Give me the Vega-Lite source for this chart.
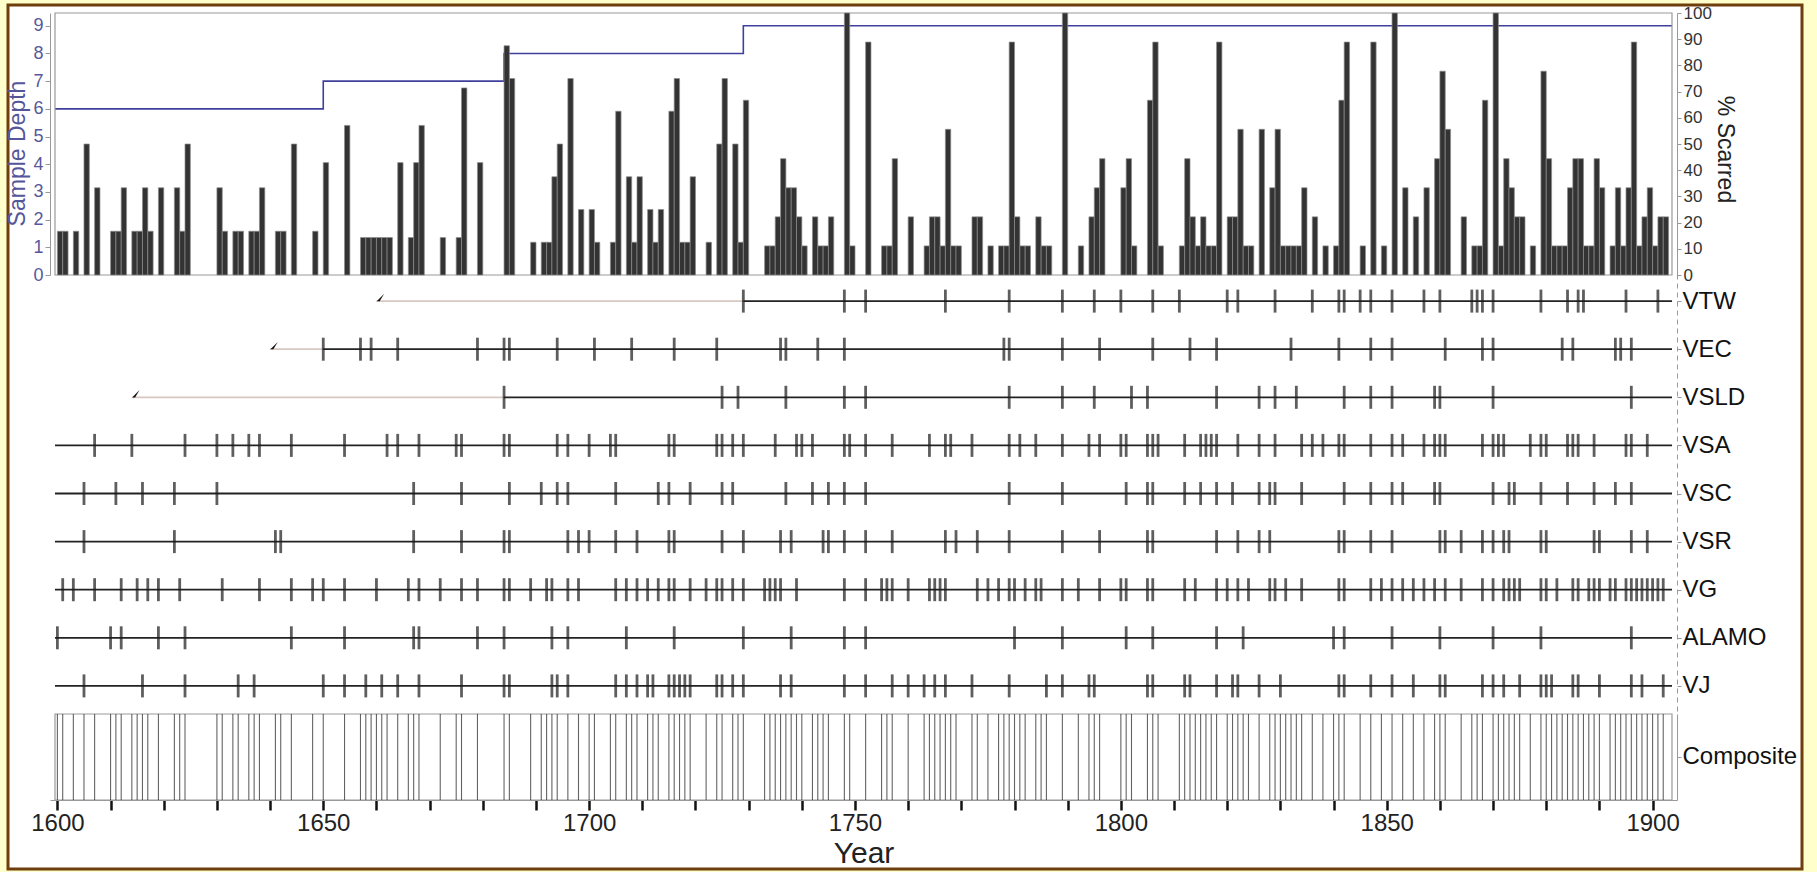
{
"$schema": "https://vega.github.io/schema/vega-lite/v6.json",
"width": 1794, "height": 864,
"autosize": {"type": "none"},
"padding": {"left": 8, "top": 5, "right": 15, "bottom": 3},
"background": "#FFFFCC",
"config": {
  "view": {"fill": "#ffffff", "stroke": "#6e3f0c", "strokeWidth": 3},
  "font": "Liberation Sans",
  "axis": {"labelFont": "Liberation Sans", "titleFont": "Liberation Sans", "grid": false, "titleFontWeight": "normal"}
},
"datasets": {
  "depth": [{"year":1599.55,"depth":6},{"year":1650,"depth":7},{"year":1684,"depth":8},{"year":1729,"depth":9},{"year":1903.65,"depth":9}],
  "inner": [{"site":"VTW","year":1660},{"site":"VEC","year":1640},{"site":"VSLD","year":1614}],
  "segments": [
    {"site":"VTW","start":1660,"end":1729,"type":"non-recorder"},{"site":"VTW","start":1729,"end":1903.65,"type":"recorder"},
    {"site":"VEC","start":1640,"end":1650,"type":"non-recorder"},{"site":"VEC","start":1650,"end":1903.65,"type":"recorder"},
    {"site":"VSLD","start":1614,"end":1684,"type":"non-recorder"},{"site":"VSLD","start":1684,"end":1903.65,"type":"recorder"},
    {"site":"VSA","start":1599.55,"end":1903.65,"type":"recorder"},
    {"site":"VSC","start":1599.55,"end":1903.65,"type":"recorder"},
    {"site":"VSR","start":1599.55,"end":1903.65,"type":"recorder"},
    {"site":"VG","start":1599.55,"end":1903.65,"type":"recorder"},
    {"site":"ALAMO","start":1599.55,"end":1903.65,"type":"recorder"},
    {"site":"VJ","start":1599.55,"end":1903.65,"type":"recorder"}
  ],
  "bars": [
    {"year":1600,"pct":16.7},{"year":1601,"pct":16.7},{"year":1603,"pct":16.7},{"year":1605,"pct":50},{"year":1607,"pct":33.3},
    {"year":1610,"pct":16.7},{"year":1611,"pct":16.7},{"year":1612,"pct":33.3},{"year":1614,"pct":16.7},{"year":1615,"pct":16.7},
    {"year":1616,"pct":33.3},{"year":1617,"pct":16.7},{"year":1619,"pct":33.3},{"year":1622,"pct":33.3},{"year":1623,"pct":16.7},
    {"year":1624,"pct":50},{"year":1630,"pct":33.3},{"year":1631,"pct":16.7},{"year":1633,"pct":16.7},{"year":1634,"pct":16.7},
    {"year":1636,"pct":16.7},{"year":1637,"pct":16.7},{"year":1638,"pct":33.3},{"year":1641,"pct":16.7},{"year":1642,"pct":16.7},
    {"year":1644,"pct":50},{"year":1648,"pct":16.7},
    {"year":1650,"pct":42.9},{"year":1654,"pct":57.1},{"year":1657,"pct":14.3},{"year":1658,"pct":14.3},{"year":1659,"pct":14.3},
    {"year":1660,"pct":14.3},{"year":1661,"pct":14.3},{"year":1662,"pct":14.3},{"year":1664,"pct":42.9},{"year":1666,"pct":14.3},
    {"year":1667,"pct":42.9},{"year":1668,"pct":57.1},{"year":1672,"pct":14.3},{"year":1675,"pct":14.3},{"year":1676,"pct":71.4},
    {"year":1679,"pct":42.9},
    {"year":1684,"pct":87.5},{"year":1685,"pct":75},{"year":1689,"pct":12.5},{"year":1691,"pct":12.5},{"year":1692,"pct":12.5},
    {"year":1693,"pct":37.5},{"year":1694,"pct":50},{"year":1696,"pct":75},{"year":1698,"pct":25},{"year":1700,"pct":25},
    {"year":1701,"pct":12.5},{"year":1704,"pct":12.5},{"year":1705,"pct":62.5},{"year":1707,"pct":37.5},{"year":1708,"pct":12.5},
    {"year":1709,"pct":37.5},{"year":1711,"pct":25},{"year":1712,"pct":12.5},{"year":1713,"pct":25},{"year":1715,"pct":62.5},
    {"year":1716,"pct":75},{"year":1717,"pct":12.5},{"year":1718,"pct":12.5},{"year":1719,"pct":37.5},{"year":1722,"pct":12.5},
    {"year":1724,"pct":50},{"year":1725,"pct":75},{"year":1727,"pct":50},{"year":1728,"pct":12.5},
    {"year":1729,"pct":66.7},{"year":1733,"pct":11.1},{"year":1734,"pct":11.1},{"year":1735,"pct":22.2},{"year":1736,"pct":44.4},
    {"year":1737,"pct":33.3},{"year":1738,"pct":33.3},{"year":1739,"pct":22.2},{"year":1740,"pct":11.1},{"year":1742,"pct":22.2},
    {"year":1743,"pct":11.1},{"year":1744,"pct":11.1},{"year":1745,"pct":22.2},{"year":1748,"pct":100},{"year":1749,"pct":11.1},
    {"year":1752,"pct":88.9},{"year":1755,"pct":11.1},{"year":1756,"pct":11.1},{"year":1757,"pct":44.4},{"year":1760,"pct":22.2},
    {"year":1763,"pct":11.1},{"year":1764,"pct":22.2},{"year":1765,"pct":22.2},{"year":1766,"pct":11.1},{"year":1767,"pct":55.6},
    {"year":1768,"pct":11.1},{"year":1769,"pct":11.1},{"year":1772,"pct":22.2},{"year":1773,"pct":22.2},{"year":1775,"pct":11.1},
    {"year":1777,"pct":11.1},{"year":1778,"pct":11.1},{"year":1779,"pct":88.9},{"year":1780,"pct":22.2},{"year":1781,"pct":11.1},
    {"year":1782,"pct":11.1},{"year":1784,"pct":22.2},{"year":1785,"pct":11.1},{"year":1786,"pct":11.1},{"year":1789,"pct":100},
    {"year":1792,"pct":11.1},{"year":1794,"pct":22.2},{"year":1795,"pct":33.3},{"year":1796,"pct":44.4},{"year":1800,"pct":33.3},
    {"year":1801,"pct":44.4},{"year":1802,"pct":11.1},{"year":1805,"pct":66.7},{"year":1806,"pct":88.9},{"year":1807,"pct":11.1},
    {"year":1811,"pct":11.1},{"year":1812,"pct":44.4},{"year":1813,"pct":22.2},{"year":1814,"pct":11.1},{"year":1815,"pct":22.2},
    {"year":1816,"pct":11.1},{"year":1817,"pct":11.1},{"year":1818,"pct":88.9},{"year":1820,"pct":22.2},{"year":1821,"pct":22.2},
    {"year":1822,"pct":55.6},{"year":1823,"pct":11.1},{"year":1824,"pct":11.1},{"year":1826,"pct":55.6},{"year":1828,"pct":33.3},
    {"year":1829,"pct":55.6},{"year":1830,"pct":11.1},{"year":1831,"pct":11.1},{"year":1832,"pct":11.1},{"year":1833,"pct":11.1},
    {"year":1834,"pct":33.3},{"year":1836,"pct":22.2},{"year":1838,"pct":11.1},{"year":1840,"pct":11.1},{"year":1841,"pct":66.7},
    {"year":1842,"pct":88.9},{"year":1845,"pct":11.1},{"year":1847,"pct":88.9},{"year":1849,"pct":11.1},{"year":1851,"pct":100},
    {"year":1853,"pct":33.3},{"year":1855,"pct":22.2},{"year":1857,"pct":33.3},{"year":1859,"pct":44.4},{"year":1860,"pct":77.8},
    {"year":1861,"pct":55.6},{"year":1864,"pct":22.2},{"year":1866,"pct":11.1},{"year":1867,"pct":11.1},{"year":1868,"pct":66.7},
    {"year":1870,"pct":100},{"year":1871,"pct":11.1},{"year":1872,"pct":44.4},{"year":1873,"pct":33.3},{"year":1874,"pct":22.2},
    {"year":1875,"pct":22.2},{"year":1877,"pct":11.1},{"year":1879,"pct":77.8},{"year":1880,"pct":44.4},{"year":1881,"pct":11.1},
    {"year":1882,"pct":11.1},{"year":1883,"pct":11.1},{"year":1884,"pct":33.3},{"year":1885,"pct":44.4},{"year":1886,"pct":44.4},
    {"year":1887,"pct":11.1},{"year":1888,"pct":11.1},{"year":1889,"pct":44.4},{"year":1890,"pct":33.3},{"year":1892,"pct":11.1},
    {"year":1893,"pct":33.3},{"year":1894,"pct":11.1},{"year":1895,"pct":33.3},{"year":1896,"pct":88.9},{"year":1897,"pct":11.1},
    {"year":1898,"pct":22.2},{"year":1899,"pct":33.3},{"year":1900,"pct":11.1},{"year":1901,"pct":22.2},{"year":1902,"pct":22.2}
  ],
  "events": [
    {"site":"VTW","year":1729},{"site":"VTW","year":1748},{"site":"VTW","year":1752},{"site":"VTW","year":1767},{"site":"VTW","year":1779},{"site":"VTW","year":1789},{"site":"VTW","year":1795},{"site":"VTW","year":1800},{"site":"VTW","year":1806},{"site":"VTW","year":1811},{"site":"VTW","year":1820},{"site":"VTW","year":1822},{"site":"VTW","year":1829},{"site":"VTW","year":1836},{"site":"VTW","year":1841},{"site":"VTW","year":1842},{"site":"VTW","year":1845},{"site":"VTW","year":1847},{"site":"VTW","year":1851},{"site":"VTW","year":1857},{"site":"VTW","year":1860},{"site":"VTW","year":1866},{"site":"VTW","year":1867},{"site":"VTW","year":1868},{"site":"VTW","year":1870},{"site":"VTW","year":1879},{"site":"VTW","year":1884},{"site":"VTW","year":1886},{"site":"VTW","year":1887},{"site":"VTW","year":1895},{"site":"VTW","year":1901},
    {"site":"VEC","year":1650},{"site":"VEC","year":1657},{"site":"VEC","year":1659},{"site":"VEC","year":1664},{"site":"VEC","year":1679},{"site":"VEC","year":1684},{"site":"VEC","year":1685},{"site":"VEC","year":1694},{"site":"VEC","year":1701},{"site":"VEC","year":1708},{"site":"VEC","year":1716},{"site":"VEC","year":1724},{"site":"VEC","year":1736},{"site":"VEC","year":1737},{"site":"VEC","year":1743},{"site":"VEC","year":1748},{"site":"VEC","year":1778},{"site":"VEC","year":1779},{"site":"VEC","year":1789},{"site":"VEC","year":1796},{"site":"VEC","year":1806},{"site":"VEC","year":1813},{"site":"VEC","year":1818},{"site":"VEC","year":1832},{"site":"VEC","year":1841},{"site":"VEC","year":1847},{"site":"VEC","year":1851},{"site":"VEC","year":1861},{"site":"VEC","year":1868},{"site":"VEC","year":1870},{"site":"VEC","year":1883},{"site":"VEC","year":1885},{"site":"VEC","year":1893},{"site":"VEC","year":1894},{"site":"VEC","year":1896},
    {"site":"VSLD","year":1684},{"site":"VSLD","year":1725},{"site":"VSLD","year":1728},{"site":"VSLD","year":1737},{"site":"VSLD","year":1748},{"site":"VSLD","year":1752},{"site":"VSLD","year":1779},{"site":"VSLD","year":1789},{"site":"VSLD","year":1795},{"site":"VSLD","year":1802},{"site":"VSLD","year":1805},{"site":"VSLD","year":1818},{"site":"VSLD","year":1826},{"site":"VSLD","year":1829},{"site":"VSLD","year":1833},{"site":"VSLD","year":1842},{"site":"VSLD","year":1847},{"site":"VSLD","year":1851},{"site":"VSLD","year":1859},{"site":"VSLD","year":1860},{"site":"VSLD","year":1870},{"site":"VSLD","year":1896},
    {"site":"VSA","year":1607},{"site":"VSA","year":1614},{"site":"VSA","year":1624},{"site":"VSA","year":1630},{"site":"VSA","year":1633},{"site":"VSA","year":1636},{"site":"VSA","year":1638},{"site":"VSA","year":1644},{"site":"VSA","year":1654},{"site":"VSA","year":1662},{"site":"VSA","year":1664},{"site":"VSA","year":1668},{"site":"VSA","year":1675},{"site":"VSA","year":1676},{"site":"VSA","year":1684},{"site":"VSA","year":1685},{"site":"VSA","year":1694},{"site":"VSA","year":1696},{"site":"VSA","year":1700},{"site":"VSA","year":1704},{"site":"VSA","year":1705},{"site":"VSA","year":1715},{"site":"VSA","year":1716},{"site":"VSA","year":1724},{"site":"VSA","year":1725},{"site":"VSA","year":1727},{"site":"VSA","year":1729},{"site":"VSA","year":1735},{"site":"VSA","year":1739},{"site":"VSA","year":1740},{"site":"VSA","year":1742},{"site":"VSA","year":1748},{"site":"VSA","year":1749},{"site":"VSA","year":1752},{"site":"VSA","year":1757},{"site":"VSA","year":1764},{"site":"VSA","year":1767},{"site":"VSA","year":1768},{"site":"VSA","year":1772},{"site":"VSA","year":1779},{"site":"VSA","year":1781},{"site":"VSA","year":1784},{"site":"VSA","year":1789},{"site":"VSA","year":1794},{"site":"VSA","year":1796},{"site":"VSA","year":1800},{"site":"VSA","year":1801},{"site":"VSA","year":1805},{"site":"VSA","year":1806},{"site":"VSA","year":1807},{"site":"VSA","year":1812},{"site":"VSA","year":1815},{"site":"VSA","year":1816},{"site":"VSA","year":1817},{"site":"VSA","year":1818},{"site":"VSA","year":1822},{"site":"VSA","year":1826},{"site":"VSA","year":1829},{"site":"VSA","year":1834},{"site":"VSA","year":1836},{"site":"VSA","year":1838},{"site":"VSA","year":1841},{"site":"VSA","year":1842},{"site":"VSA","year":1847},{"site":"VSA","year":1851},{"site":"VSA","year":1853},{"site":"VSA","year":1857},{"site":"VSA","year":1859},{"site":"VSA","year":1860},{"site":"VSA","year":1861},{"site":"VSA","year":1868},{"site":"VSA","year":1870},{"site":"VSA","year":1871},{"site":"VSA","year":1872},{"site":"VSA","year":1877},{"site":"VSA","year":1879},{"site":"VSA","year":1880},{"site":"VSA","year":1884},{"site":"VSA","year":1885},{"site":"VSA","year":1886},{"site":"VSA","year":1889},{"site":"VSA","year":1895},{"site":"VSA","year":1896},{"site":"VSA","year":1899},
    {"site":"VSC","year":1605},{"site":"VSC","year":1611},{"site":"VSC","year":1616},{"site":"VSC","year":1622},{"site":"VSC","year":1630},{"site":"VSC","year":1667},{"site":"VSC","year":1676},{"site":"VSC","year":1685},{"site":"VSC","year":1691},{"site":"VSC","year":1694},{"site":"VSC","year":1696},{"site":"VSC","year":1705},{"site":"VSC","year":1713},{"site":"VSC","year":1715},{"site":"VSC","year":1719},{"site":"VSC","year":1725},{"site":"VSC","year":1727},{"site":"VSC","year":1737},{"site":"VSC","year":1742},{"site":"VSC","year":1745},{"site":"VSC","year":1748},{"site":"VSC","year":1752},{"site":"VSC","year":1779},{"site":"VSC","year":1789},{"site":"VSC","year":1801},{"site":"VSC","year":1805},{"site":"VSC","year":1806},{"site":"VSC","year":1812},{"site":"VSC","year":1815},{"site":"VSC","year":1818},{"site":"VSC","year":1821},{"site":"VSC","year":1826},{"site":"VSC","year":1828},{"site":"VSC","year":1829},{"site":"VSC","year":1834},{"site":"VSC","year":1842},{"site":"VSC","year":1847},{"site":"VSC","year":1851},{"site":"VSC","year":1853},{"site":"VSC","year":1859},{"site":"VSC","year":1860},{"site":"VSC","year":1870},{"site":"VSC","year":1873},{"site":"VSC","year":1874},{"site":"VSC","year":1879},{"site":"VSC","year":1884},{"site":"VSC","year":1889},{"site":"VSC","year":1893},{"site":"VSC","year":1896},
    {"site":"VSR","year":1605},{"site":"VSR","year":1622},{"site":"VSR","year":1641},{"site":"VSR","year":1642},{"site":"VSR","year":1667},{"site":"VSR","year":1676},{"site":"VSR","year":1684},{"site":"VSR","year":1685},{"site":"VSR","year":1696},{"site":"VSR","year":1698},{"site":"VSR","year":1700},{"site":"VSR","year":1705},{"site":"VSR","year":1709},{"site":"VSR","year":1715},{"site":"VSR","year":1716},{"site":"VSR","year":1725},{"site":"VSR","year":1729},{"site":"VSR","year":1736},{"site":"VSR","year":1738},{"site":"VSR","year":1744},{"site":"VSR","year":1745},{"site":"VSR","year":1748},{"site":"VSR","year":1752},{"site":"VSR","year":1757},{"site":"VSR","year":1767},{"site":"VSR","year":1769},{"site":"VSR","year":1773},{"site":"VSR","year":1779},{"site":"VSR","year":1789},{"site":"VSR","year":1796},{"site":"VSR","year":1805},{"site":"VSR","year":1806},{"site":"VSR","year":1818},{"site":"VSR","year":1822},{"site":"VSR","year":1826},{"site":"VSR","year":1828},{"site":"VSR","year":1841},{"site":"VSR","year":1842},{"site":"VSR","year":1847},{"site":"VSR","year":1851},{"site":"VSR","year":1860},{"site":"VSR","year":1861},{"site":"VSR","year":1864},{"site":"VSR","year":1868},{"site":"VSR","year":1870},{"site":"VSR","year":1872},{"site":"VSR","year":1873},{"site":"VSR","year":1879},{"site":"VSR","year":1880},{"site":"VSR","year":1889},{"site":"VSR","year":1890},{"site":"VSR","year":1896},{"site":"VSR","year":1899},
    {"site":"VG","year":1601},{"site":"VG","year":1603},{"site":"VG","year":1607},{"site":"VG","year":1612},{"site":"VG","year":1615},{"site":"VG","year":1617},{"site":"VG","year":1619},{"site":"VG","year":1623},{"site":"VG","year":1631},{"site":"VG","year":1638},{"site":"VG","year":1644},{"site":"VG","year":1648},{"site":"VG","year":1650},{"site":"VG","year":1654},{"site":"VG","year":1660},{"site":"VG","year":1666},{"site":"VG","year":1668},{"site":"VG","year":1672},{"site":"VG","year":1676},{"site":"VG","year":1679},{"site":"VG","year":1684},{"site":"VG","year":1685},{"site":"VG","year":1689},{"site":"VG","year":1692},{"site":"VG","year":1693},{"site":"VG","year":1696},{"site":"VG","year":1698},{"site":"VG","year":1705},{"site":"VG","year":1707},{"site":"VG","year":1709},{"site":"VG","year":1711},{"site":"VG","year":1713},{"site":"VG","year":1715},{"site":"VG","year":1716},{"site":"VG","year":1719},{"site":"VG","year":1722},{"site":"VG","year":1724},{"site":"VG","year":1725},{"site":"VG","year":1727},{"site":"VG","year":1729},{"site":"VG","year":1733},{"site":"VG","year":1734},{"site":"VG","year":1735},{"site":"VG","year":1736},{"site":"VG","year":1739},{"site":"VG","year":1748},{"site":"VG","year":1752},{"site":"VG","year":1755},{"site":"VG","year":1756},{"site":"VG","year":1757},{"site":"VG","year":1760},{"site":"VG","year":1764},{"site":"VG","year":1765},{"site":"VG","year":1766},{"site":"VG","year":1767},{"site":"VG","year":1773},{"site":"VG","year":1775},{"site":"VG","year":1777},{"site":"VG","year":1779},{"site":"VG","year":1780},{"site":"VG","year":1782},{"site":"VG","year":1784},{"site":"VG","year":1785},{"site":"VG","year":1789},{"site":"VG","year":1792},{"site":"VG","year":1796},{"site":"VG","year":1800},{"site":"VG","year":1801},{"site":"VG","year":1805},{"site":"VG","year":1806},{"site":"VG","year":1812},{"site":"VG","year":1814},{"site":"VG","year":1818},{"site":"VG","year":1820},{"site":"VG","year":1822},{"site":"VG","year":1824},{"site":"VG","year":1828},{"site":"VG","year":1829},{"site":"VG","year":1831},{"site":"VG","year":1834},{"site":"VG","year":1841},{"site":"VG","year":1842},{"site":"VG","year":1847},{"site":"VG","year":1849},{"site":"VG","year":1851},{"site":"VG","year":1853},{"site":"VG","year":1855},{"site":"VG","year":1857},{"site":"VG","year":1859},{"site":"VG","year":1861},{"site":"VG","year":1864},{"site":"VG","year":1868},{"site":"VG","year":1870},{"site":"VG","year":1872},{"site":"VG","year":1873},{"site":"VG","year":1874},{"site":"VG","year":1875},{"site":"VG","year":1879},{"site":"VG","year":1880},{"site":"VG","year":1882},{"site":"VG","year":1885},{"site":"VG","year":1886},{"site":"VG","year":1888},{"site":"VG","year":1889},{"site":"VG","year":1890},{"site":"VG","year":1892},{"site":"VG","year":1893},{"site":"VG","year":1895},{"site":"VG","year":1896},{"site":"VG","year":1897},{"site":"VG","year":1898},{"site":"VG","year":1899},{"site":"VG","year":1900},{"site":"VG","year":1901},{"site":"VG","year":1902},
    {"site":"ALAMO","year":1600},{"site":"ALAMO","year":1610},{"site":"ALAMO","year":1612},{"site":"ALAMO","year":1619},{"site":"ALAMO","year":1624},{"site":"ALAMO","year":1644},{"site":"ALAMO","year":1654},{"site":"ALAMO","year":1667},{"site":"ALAMO","year":1668},{"site":"ALAMO","year":1679},{"site":"ALAMO","year":1684},{"site":"ALAMO","year":1693},{"site":"ALAMO","year":1696},{"site":"ALAMO","year":1707},{"site":"ALAMO","year":1716},{"site":"ALAMO","year":1729},{"site":"ALAMO","year":1738},{"site":"ALAMO","year":1748},{"site":"ALAMO","year":1752},{"site":"ALAMO","year":1780},{"site":"ALAMO","year":1789},{"site":"ALAMO","year":1801},{"site":"ALAMO","year":1806},{"site":"ALAMO","year":1818},{"site":"ALAMO","year":1823},{"site":"ALAMO","year":1840},{"site":"ALAMO","year":1842},{"site":"ALAMO","year":1851},{"site":"ALAMO","year":1860},{"site":"ALAMO","year":1870},{"site":"ALAMO","year":1879},{"site":"ALAMO","year":1896},
    {"site":"VJ","year":1605},{"site":"VJ","year":1616},{"site":"VJ","year":1624},{"site":"VJ","year":1634},{"site":"VJ","year":1637},{"site":"VJ","year":1650},{"site":"VJ","year":1654},{"site":"VJ","year":1658},{"site":"VJ","year":1661},{"site":"VJ","year":1664},{"site":"VJ","year":1668},{"site":"VJ","year":1676},{"site":"VJ","year":1684},{"site":"VJ","year":1685},{"site":"VJ","year":1693},{"site":"VJ","year":1694},{"site":"VJ","year":1696},{"site":"VJ","year":1705},{"site":"VJ","year":1707},{"site":"VJ","year":1709},{"site":"VJ","year":1711},{"site":"VJ","year":1712},{"site":"VJ","year":1715},{"site":"VJ","year":1716},{"site":"VJ","year":1717},{"site":"VJ","year":1718},{"site":"VJ","year":1719},{"site":"VJ","year":1724},{"site":"VJ","year":1725},{"site":"VJ","year":1727},{"site":"VJ","year":1729},{"site":"VJ","year":1736},{"site":"VJ","year":1738},{"site":"VJ","year":1748},{"site":"VJ","year":1752},{"site":"VJ","year":1757},{"site":"VJ","year":1760},{"site":"VJ","year":1763},{"site":"VJ","year":1765},{"site":"VJ","year":1767},{"site":"VJ","year":1772},{"site":"VJ","year":1779},{"site":"VJ","year":1786},{"site":"VJ","year":1789},{"site":"VJ","year":1794},{"site":"VJ","year":1795},{"site":"VJ","year":1805},{"site":"VJ","year":1806},{"site":"VJ","year":1812},{"site":"VJ","year":1813},{"site":"VJ","year":1818},{"site":"VJ","year":1821},{"site":"VJ","year":1822},{"site":"VJ","year":1826},{"site":"VJ","year":1830},{"site":"VJ","year":1841},{"site":"VJ","year":1842},{"site":"VJ","year":1847},{"site":"VJ","year":1851},{"site":"VJ","year":1855},{"site":"VJ","year":1860},{"site":"VJ","year":1861},{"site":"VJ","year":1868},{"site":"VJ","year":1870},{"site":"VJ","year":1872},{"site":"VJ","year":1875},{"site":"VJ","year":1879},{"site":"VJ","year":1880},{"site":"VJ","year":1881},{"site":"VJ","year":1885},{"site":"VJ","year":1886},{"site":"VJ","year":1890},{"site":"VJ","year":1896},{"site":"VJ","year":1898},{"site":"VJ","year":1902}
  ]
},
"resolve": {"scale": {"y": "independent"}, "axis": {"x": "independent", "y": "independent"}},
"layer": [
  {
    "data": {"name": "depth"},
    "mark": {"type": "line", "interpolate": "step-after", "color": "#40409c", "strokeWidth": 1.6},
    "encoding": {
      "x": {"field": "year", "type": "quantitative",
            "scale": {"domain": [1599.55, 1903.65], "range": [42, 1669], "nice": false, "zero": false},
            "axis": {"orient": "bottom", "offset": -69,
                     "values": [1600,1610,1620,1630,1640,1650,1660,1670,1680,1690,1700,1710,1720,1730,1740,1750,1760,1770,1780,1790,1800,1810,1820,1830,1840,1850,1860,1870,1880,1890,1900],
                     "labelExpr": "datum.value % 50 === 0 ? datum.label : ''", "format": "d",
                     "labelOverlap": false, "labelFlush": false,
                     "tickColor": "#111111", "tickWidth": 2.5, "tickSize": 10,
                     "domainColor": "#999999", "domainWidth": 1.2,
                     "labelFontSize": 24, "labelColor": "#222222", "labelPadding": 1,
                     "title": "Year", "titleFontSize": 30, "titleColor": "#222222", "titlePadding": 3}},
      "y": {"field": "depth", "type": "quantitative",
            "scale": {"domain": [0, 9.46], "range": [270, 8], "nice": false, "zero": true},
            "axis": {"orient": "left", "offset": -42, "values": [0,1,2,3,4,5,6,7,8,9],
                     "labelFontSize": 18, "labelColor": "#58589a", "labelPadding": 2,
                     "tickColor": "#999999", "tickSize": 5, "domainColor": "#999999",
                     "title": "Sample Depth", "titleColor": "#55559a", "titleFontSize": 23,
                     "titlePadding": 3, "titleY": 148}}
    }
  },
  {
    "data": {"values": [{}]},
    "mark": {"type": "rect", "fill": "#ffffff", "fillOpacity": 0, "stroke": "#999999", "strokeWidth": 1.2},
    "encoding": {
      "x": {"datum": 1599.55, "type": "quantitative", "scale": {"domain": [1599.55, 1903.65], "range": [42, 1669], "nice": false, "zero": false}, "axis": null},
      "x2": {"datum": 1903.65},
      "y": {"datum": 0, "type": "quantitative", "scale": {"domain": [0, 100], "range": [270, 8], "nice": false}, "axis": null},
      "y2": {"datum": 100}
    }
  },
  {
    "data": {"name": "bars"},
    "mark": {"type": "bar", "orient": "vertical", "width": 5.35, "xOffset": 2.675, "fill": "#333333", "stroke": "#8c8c8c", "strokeWidth": 0.7},
    "encoding": {
      "x": {"field": "year", "type": "quantitative", "scale": {"domain": [1599.55, 1903.65], "range": [42, 1669], "nice": false, "zero": false}, "axis": null},
      "y": {"field": "pct", "type": "quantitative",
            "scale": {"domain": [0, 100], "range": [270, 8], "nice": false},
            "axis": {"orient": "right", "offset": -125, "values": [0,10,20,30,40,50,60,70,80,90,100],
                     "labelFontSize": 17, "labelColor": "#333333", "labelPadding": 2,
                     "tickColor": "#999999", "tickSize": 4, "domainColor": "#999999",
                     "title": "% Scarred", "titleFontSize": 23, "titleColor": "#222222",
                     "titlePadding": 1, "titleY": 144}}
    }
  },
  {
    "data": {"name": "segments"},
    "mark": {"type": "rule", "strokeWidth": 1.8},
    "encoding": {
      "x": {"field": "start", "type": "quantitative", "scale": {"domain": [1599.55, 1903.65], "range": [42, 1669], "nice": false, "zero": false}, "axis": null},
      "x2": {"field": "end"},
      "y": {"field": "site", "type": "nominal",
            "scale": {"type": "point", "domain": ["VTW","VEC","VSLD","VSA","VSC","VSR","VG","ALAMO","VJ"], "range": [269, 708], "padding": 0.5635},
            "axis": {"orient": "right", "offset": -125, "labelFontSize": 24, "labelColor": "#111111",
                     "labelPadding": 1, "tickColor": "#999999", "tickSize": 4,
                     "domainColor": "#999999", "domainDash": [5, 4], "title": null}},
      "color": {"field": "type", "type": "nominal", "scale": {"domain": ["recorder", "non-recorder"], "range": ["#222222", "#d8c8c2"]}, "legend": null}
    }
  },
  {
    "data": {"name": "events"},
    "mark": {"type": "tick", "thickness": 2.8, "size": 23, "color": "#1a1a1a"},
    "encoding": {
      "x": {"field": "year", "type": "quantitative", "scale": {"domain": [1599.55, 1903.65], "range": [42, 1669], "nice": false, "zero": false}, "axis": null},
      "y": {"field": "site", "type": "nominal",
            "scale": {"type": "point", "domain": ["VTW","VEC","VSLD","VSA","VSC","VSR","VG","ALAMO","VJ"], "range": [269, 708], "padding": 0.5635},
            "axis": null}
    }
  },
  {
    "data": {"name": "inner"},
    "mark": {"type": "point", "shape": "M -1 1 L 1 -1 L -0.2 1 Z", "size": 55, "filled": true, "color": "#111111", "opacity": 1, "strokeWidth": 0, "xOffset": 4, "yOffset": -3.6},
    "encoding": {
      "x": {"field": "year", "type": "quantitative", "scale": {"domain": [1599.55, 1903.65], "range": [42, 1669], "nice": false, "zero": false}, "axis": null},
      "y": {"field": "site", "type": "nominal",
            "scale": {"type": "point", "domain": ["VTW","VEC","VSLD","VSA","VSC","VSR","VG","ALAMO","VJ"], "range": [269, 708], "padding": 0.5635},
            "axis": null}
    }
  },
  {
    "data": {"values": [{}]},
    "mark": {"type": "rect", "fill": "#ffffff", "fillOpacity": 0, "stroke": "#999999", "strokeWidth": 1.2},
    "encoding": {
      "x": {"datum": 1599.55, "type": "quantitative", "scale": {"domain": [1599.55, 1903.65], "range": [42, 1669], "nice": false, "zero": false}, "axis": null},
      "x2": {"datum": 1903.65},
      "y": {"datum": "Composite", "type": "nominal",
            "scale": {"type": "band", "domain": ["Composite"], "range": [709, 795], "paddingInner": 0, "paddingOuter": 0},
            "axis": {"orient": "right", "offset": -125, "labelFontSize": 24, "labelColor": "#111111",
                     "labelPadding": 1, "tickColor": "#999999", "tickSize": 4,
                     "domainColor": "#999999", "title": null}}
    }
  },
  {
    "data": {"name": "bars"},
    "mark": {"type": "tick", "thickness": 1.1, "size": 86, "color": "#222222"},
    "encoding": {
      "x": {"field": "year", "type": "quantitative", "scale": {"domain": [1599.55, 1903.65], "range": [42, 1669], "nice": false, "zero": false}, "axis": null},
      "y": {"datum": "Composite", "type": "nominal",
            "scale": {"type": "band", "domain": ["Composite"], "range": [709, 795], "paddingInner": 0, "paddingOuter": 0},
            "axis": null}
    }
  }
]
}
